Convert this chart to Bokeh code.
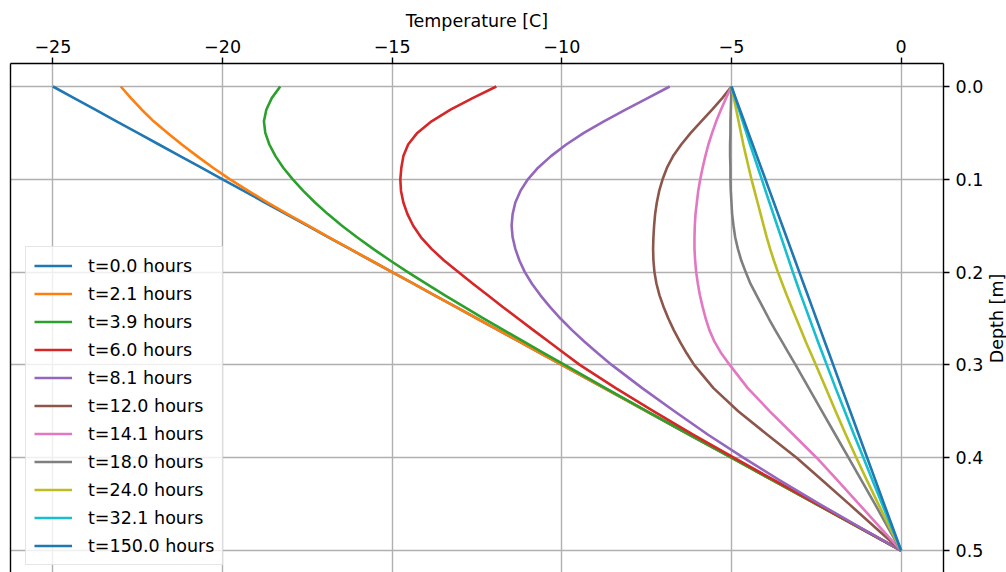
import math
from bokeh.plotting import figure
from bokeh.models import Range1d, FixedTicker, LinearAxis, Legend, LegendItem, Label
from bokeh.core.properties import value
from bokeh.embed import file_html
from bokeh.resources import INLINE

# Depth below the surface [m]
depth = [0.0, 0.0125, 0.025, 0.0375, 0.05, 0.0625, 0.075, 0.0875, 0.1, 0.1125,
         0.125, 0.1375, 0.15, 0.1625, 0.175, 0.1875, 0.2, 0.2125, 0.225, 0.2375,
         0.25, 0.2625, 0.275, 0.2875, 0.3, 0.325, 0.35, 0.375, 0.4, 0.425,
         0.45, 0.475, 0.5]

# Elapsed time of each profile [hours]
hours = [0.0, 2.1, 3.9, 6.0, 8.1, 12.0, 14.1, 18.0, 24.0, 32.1, 150.0]

# Temperature profiles [C], one per time, sampled at the depths above
temp_t0 = [-25.0, -24.375, -23.75, -23.125, -22.5, -21.875, -21.25, -20.625, -20.0, -19.375,
           -18.75, -18.125, -17.5, -16.875, -16.25, -15.625, -15.0, -14.375, -13.75, -13.125,
           -12.5, -11.875, -11.25, -10.625, -10.0, -8.75, -7.5, -6.25, -5.0, -3.75,
           -2.5, -1.25, 0.0]
temp_t2 = [-23.0, -22.7, -22.38, -22.03, -21.62, -21.2, -20.75, -20.28, -19.78, -19.24,
           -18.67, -18.08, -17.47, -16.86, -16.24, -15.62, -15.0, -14.375, -13.75, -13.125,
           -12.5, -11.875, -11.25, -10.625, -10.0, -8.75, -7.5, -6.25, -5.0, -3.75,
           -2.5, -1.25, 0.0]
temp_t4 = [-18.3, -18.55, -18.71, -18.78, -18.74, -18.62, -18.44, -18.21, -17.93, -17.62,
           -17.275, -16.895, -16.48, -16.035, -15.56, -15.06, -14.54, -14.0, -13.445, -12.877,
           -12.299, -11.712, -11.118, -10.518, -9.913, -8.71, -7.485, -6.245, -5.0, -3.75,
           -2.5, -1.25, 0.0]
temp_t6 = [-11.93, -12.63, -13.28, -13.84, -14.26, -14.53, -14.67, -14.73, -14.76, -14.74,
           -14.67, -14.55, -14.38, -14.15, -13.84, -13.47, -13.05, -12.62, -12.18, -11.74,
           -11.29, -10.84, -10.38, -9.93, -9.47, -8.41, -7.29, -6.13, -4.93, -3.7,
           -2.47, -1.23, 0.0]
temp_t8 = [-6.82, -7.47, -8.12, -8.76, -9.35, -9.87, -10.32, -10.7, -11.0, -11.22,
           -11.37, -11.45, -11.48, -11.45, -11.37, -11.25, -11.09, -10.88, -10.63, -10.35,
           -10.04, -9.7, -9.33, -8.94, -8.53, -7.63, -6.68, -5.7, -4.65, -3.55,
           -2.4, -1.21, 0.0]
temp_t12 = [-5.0, -5.27, -5.57, -5.89, -6.2, -6.48, -6.72, -6.9, -7.03, -7.13,
            -7.2, -7.25, -7.28, -7.3, -7.31, -7.3, -7.27, -7.21, -7.12, -7.0,
            -6.86, -6.7, -6.52, -6.32, -6.1, -5.53, -4.8, -3.95, -3.08, -2.3,
            -1.53, -0.77, 0.0]
temp_t14 = [-5.0, -5.16, -5.31, -5.45, -5.57, -5.68, -5.77, -5.85, -5.92, -5.98,
            -6.02, -6.06, -6.08, -6.09, -6.09, -6.07, -6.04, -5.99, -5.93, -5.85,
            -5.76, -5.65, -5.5, -5.3, -5.05, -4.52, -3.87, -3.18, -2.49, -1.86,
            -1.24, -0.62, 0.0]
temp_t18 = [-5.0, -5.01, -5.02, -5.03, -5.03, -5.04, -5.04, -5.03, -5.03, -5.02,
            -5.0, -4.98, -4.94, -4.89, -4.81, -4.71, -4.58, -4.44, -4.26, -4.08,
            -3.9, -3.71, -3.51, -3.31, -3.11, -2.72, -2.33, -1.94, -1.55, -1.16,
            -0.77, -0.39, 0.0]
temp_t24 = [-5.0, -4.93, -4.86, -4.79, -4.72, -4.65, -4.57, -4.49, -4.41, -4.32,
            -4.23, -4.14, -4.05, -3.96, -3.86, -3.75, -3.63, -3.5, -3.37, -3.23,
            -3.09, -2.95, -2.81, -2.66, -2.51, -2.22, -1.93, -1.63, -1.32, -1.0,
            -0.67, -0.34, 0.0]
temp_t32 = [-5.0, -4.89, -4.78, -4.67, -4.56, -4.45, -4.335, -4.22, -4.105, -3.995,
            -3.88, -3.765, -3.65, -3.535, -3.42, -3.305, -3.19, -3.07, -2.95, -2.825,
            -2.7, -2.575, -2.45, -2.32, -2.19, -1.93, -1.66, -1.39, -1.11, -0.835,
            -0.56, -0.28, 0.0]
temp_t150 = [-5.0, -4.875, -4.75, -4.625, -4.5, -4.375, -4.25, -4.125, -4.0, -3.875,
             -3.75, -3.625, -3.5, -3.375, -3.25, -3.125, -3.0, -2.875, -2.75, -2.625,
             -2.5, -2.375, -2.25, -2.125, -2.0, -1.75, -1.5, -1.25, -1.0, -0.75,
             -0.5, -0.25, 0.0]

profiles = [temp_t0, temp_t2, temp_t4, temp_t6, temp_t8, temp_t12,
            temp_t14, temp_t18, temp_t24, temp_t32, temp_t150]

colors = ["#1f77b4", "#ff7f0e", "#2ca02c", "#d62728", "#9467bd", "#8c564b",
          "#e377c2", "#7f7f7f", "#bcbd22", "#17becf", "#1f77b4"]

x_ticks = [-25, -20, -15, -10, -5, 0]
x_tick_labels = ["\u221225", "\u221220", "\u221215", "\u221210", "\u22125", "0"]
y_ticks = [0.0, 0.1, 0.2, 0.3, 0.4, 0.5]
y_tick_labels = ["0.0", "0.1", "0.2", "0.3", "0.4", "0.5"]

FONT = "DejaVu Sans"
FSIZE = "17.5px"

p = figure(width=1006, height=572, output_backend="svg", toolbar_location=None,
           x_axis_location="above", y_axis_location="right",
           x_range=Range1d(-26.25, 1.25), y_range=Range1d(0.5237, -0.0248),
           min_border_left=10, min_border_right=63, min_border_top=63,
           min_border_bottom=0)
p.outline_line_color = None
p.background_fill_color = "white"
p.border_fill_color = "white"

for ax, ticks, labels in ((p.xaxis[0], x_ticks, x_tick_labels),
                          (p.yaxis[0], y_ticks, y_tick_labels)):
    ax.ticker = FixedTicker(ticks=ticks)
    ax.major_label_overrides = dict(zip(ticks, labels))
    ax.axis_line_color = "black"
    ax.axis_line_width = 1.4
    ax.major_tick_line_color = "black"
    ax.major_tick_line_width = 1.4
    ax.major_tick_out = 6
    ax.major_tick_in = 0
    ax.minor_tick_line_color = None
    ax.major_label_text_font = FONT
    ax.major_label_text_font_size = FSIZE
    ax.major_label_text_color = "black"

p.xaxis[0].major_label_standoff = 5
p.yaxis[0].major_label_standoff = 6
p.xaxis[0].axis_label = "Temperature [C]"
p.xaxis[0].axis_label_standoff = 6
p.xaxis[0].axis_label_text_font = FONT
p.xaxis[0].axis_label_text_font_size = FSIZE
p.xaxis[0].axis_label_text_font_style = "normal"
p.xaxis[0].axis_label_text_color = "black"

# depth title in the right-hand panel, reading upwards
p.add_layout(Label(x=10, y=254, x_units="screen", y_units="screen",
                   text="Depth [m]", angle=math.pi / 2, text_align="center",
                   text_baseline="middle", text_font=FONT, text_font_size=FSIZE,
                   text_color="black"), "right")

# plain spine along the left edge of the frame
left_spine = LinearAxis(ticker=FixedTicker(ticks=[]), axis_line_color="black",
                        axis_line_width=1.4, major_tick_out=0, major_tick_in=0,
                        minor_tick_out=0, minor_tick_in=0,
                        major_label_text_font_size="0px", major_label_standoff=0)
p.add_layout(left_spine, "left")

for g in (p.xgrid[0], p.ygrid[0]):
    g.grid_line_color = "#b0b0b0"
    g.grid_line_width = 1.4

items = []
for h, temps, c in zip(hours, profiles, colors):
    r = p.line(temps, depth, line_color=c, line_width=2.6, line_join="round")
    items.append(LegendItem(label=value(f"t={h:.1f} hours"), renderers=[r]))

legend = Legend(items=items, location=(15, 7), margin=0, padding=8,
                glyph_width=38, glyph_height=21, label_height=21, spacing=7,
                label_standoff=16, label_width=122,
                label_text_font=FONT, label_text_font_size=FSIZE,
                label_text_color="black",
                border_line_color="#cccccc", border_line_width=1.4,
                background_fill_color="white", background_fill_alpha=0.8)
p.add_layout(legend)

open("out.html", "w").write(file_html(p, INLINE))
